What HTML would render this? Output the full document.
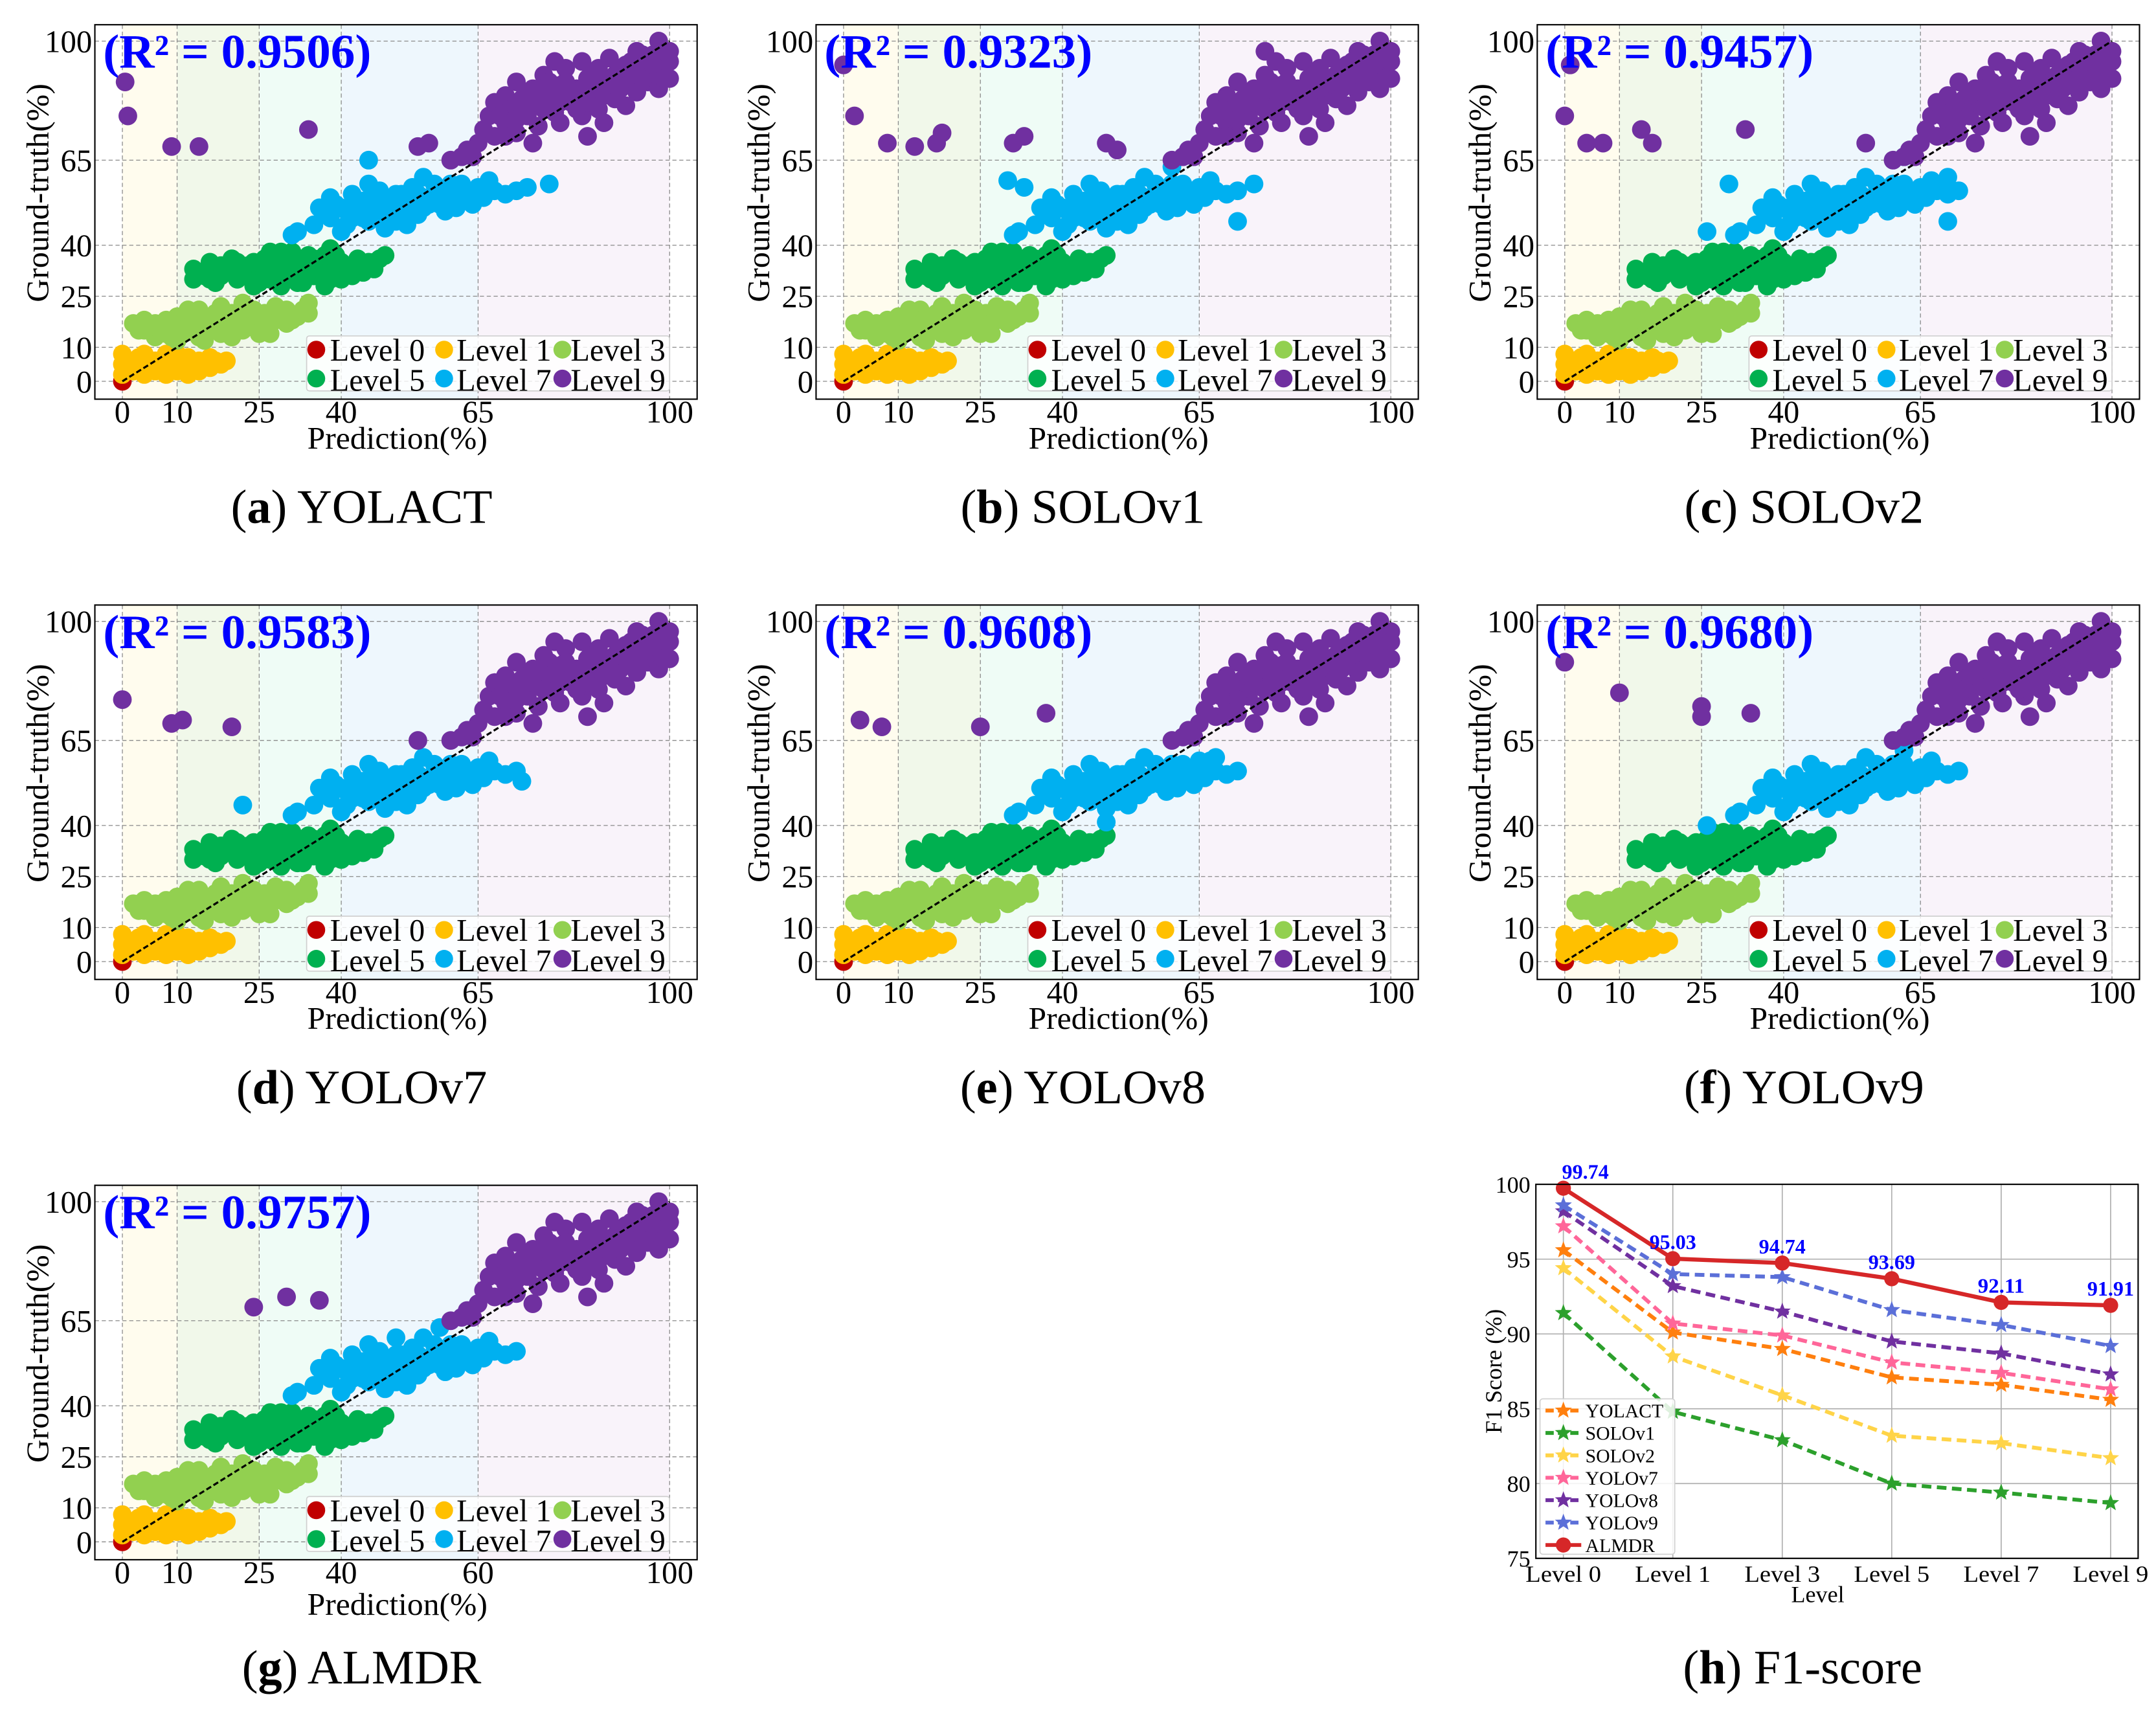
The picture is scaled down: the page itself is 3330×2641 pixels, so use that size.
<!DOCTYPE html>
<html><head><meta charset="utf-8"><style>
html,body{margin:0;padding:0;background:#fff;}
svg{display:block;font-family:"Liberation Serif",serif;}
</style></head><body>
<svg id="fig" width="3330" height="2641" viewBox="0 0 1568 1243" xmlns="http://www.w3.org/2000/svg"></svg>
<script>
// ---------- scatter data (data units: [x,y,x,y,...]) ----------
const levelNames = ['Level 0','Level 1','Level 3','Level 5','Level 7','Level 9'];
const levelColors = ['#c00000','#ffc000','#92d050','#00b050','#00b0f0','#7030a0'];
const panelLetters = ['a','b','c','d','e','f','g'];
const panelNames = ['YOLACT','SOLOv1','SOLOv2','YOLOv7','YOLOv8','YOLOv9','ALMDR'];
const panelR2 = ['0.9506','0.9323','0.9457','0.9583','0.9608','0.9680','0.9757'];
const xTickValues = [0,10,25,40,65,100];
const yTickValues = [0,10,25,40,65,100];
const xTickLabelsStd = ['0','10','25','40','65','100'];
const xTickLabelsG = ['0','10','25','40','60','100'];
const bandEdges = [0,10,25,40,65,100];
const bandColors = ['#fffcee','#f1f8ea','#effcf6','#eef7fd','#f9f3fa'];

const coreL0 = [0,0];
const coreL1 = [0,2,0,5,0,8,2,3,2,6,4,2,4,5,4,8,6,3,6,6,8,2,8,5,8,8,10,3,10,6,12,4,12,7,14,3,14,6,16,4,16,7,18,5,1,4,3,7,7,4,11,5,15,5,9,7,13,5,17,6,5,4,19,6,10,8,12,2];
const coreL3 = [2,17,4,15,4,18,6,13,6,17,8,14,8,18,10,12,10,16,10,19,12,15,12,19,14,13,14,17,14,21,16,15,16,19,18,14,18,18,18,22,20,16,20,20,22,15,22,19,22,23,24,17,24,21,26,16,26,20,28,18,28,22,30,17,30,21,32,19,34,20,34,23,20,13,25,14,
  5,16,7,15,9,17,11,14,13,18,15,16,17,20,19,17,21,18,23,16,25,19,27,17,29,20,31,18,33,21,9,13,15,12,27,14,3,15,12,21];
const coreL5 = [13,33,13,30,15,31,16,35,17,29,19,32,20,36,21,30,23,34,24,28,25,32,26,36,27,30,28,34,29,38,30,31,31,35,32,29,33,33,34,37,35,31,36,35,37,28,38,33,39,37,40,30,41,34,42,31,43,36,44,32,45,35,46,33,47,36,48,37,22,33,38,39,18,34,
  14,32,16,30,18,31,20,33,22,31,24,35,26,33,28,31,30,35,32,33,34,31,36,33,38,30,40,35,42,33,44,34,46,35,25,29,29,28,33,29,35,36,27,38,31,38,37,37,21,35];
const coreL7 = [35,46,36,51,38,48,38,54,40,51,41,46,42,55,43,49,44,53,45,47,46,51,47,56,48,49,49,53,50,47,51,55,52,51,53,57,54,49,55,54,56,52,57,58,58,55,59,50,60,56,61,53,62,58,63,55,64,52,65,57,66,54,67,59,68,56,70,55,72,56,45,58,55,60,40,44,32,44,31,43,
  37,50,39,52,41,50,43,52,45,50,47,53,49,50,51,52,53,54,55,51,57,53,59,55,61,51,63,53,65,55,50,55,54,55,58,52,44,48,48,45,52,46,46,55,42,48,60,58,62,54,66,57];
const coreL9 = [65,70,66,74,67,78,68,82,68,72,70,76,70,84,71,80,72,73,72,88,73,83,74,78,75,86,76,81,76,75,77,90,78,84,79,79,80,87,80,76,81,92,82,82,83,86,84,78,84,94,85,89,86,84,87,80,87,92,88,87,89,95,90,83,90,90,91,86,92,93,93,89,94,97,94,85,95,92,96,88,97,96,97,91,98,100,98,86,99,93,100,97,100,89,79,94,75,70,85,72,63,68,62,66,60,65,88,76,92,81,
  69,78,71,76,73,80,75,82,77,80,78,88,80,82,82,86,84,86,86,90,88,84,90,87,92,89,94,91,96,94,98,92,99,97,100,94,74,84,76,86,81,84,83,80,85,82,89,88,91,92,93,94,95,96,97,93,99,89,72,77,79,85,81,88,87,86,64,66,70,72];

const extraL7 = [
  [45,65,78,58,74,57],
  [72,47,30,59,60,63,33,57,75,58],
  [70,47,62,66,70,60,30,58,26,44],
  [22,46,73,53],
  [68,60,65,59,48,41],
  [26,40,62,62],
  [58,63,50,60]
];
const extraL9 = [
  [0.5,88,1,78,9,69,14,69,34,74,54,69,56,70],
  [0,93,2,78,8,70,13,69,18,73,17,70,31,70,33,72,48,70,50,68,77,97],
  [1,93,0,78,4,70,7,70,14,74,16,70,33,74,55,70],
  [0,77,9,70,11,71,20,69,54,65],
  [3,71,7,69,25,69,37,73],
  [0,88,10,79,25,72,25,75,34,73],
  [24,69,30,72,36,71]
];

// ---------- F1 chart data ----------
const f1Categories = ['Level 0','Level 1','Level 3','Level 5','Level 7','Level 9'];
const f1SeriesNames = ['YOLACT','SOLOv1','SOLOv2','YOLOv7','YOLOv8','YOLOv9','ALMDR'];
const f1YOLACT = [95.6,90.1,89.0,87.1,86.6,85.6];
const f1SOLOv1 = [91.4,84.8,82.9,80.0,79.4,78.7];
const f1SOLOv2 = [94.4,88.5,85.9,83.2,82.7,81.7];
const f1YOLOv7 = [97.2,90.7,89.9,88.1,87.4,86.3];
const f1YOLOv8 = [98.2,93.2,91.5,89.5,88.7,87.3];
const f1YOLOv9 = [98.6,94.0,93.8,91.6,90.6,89.2];
const f1ALMDR = [99.74,95.03,94.74,93.69,92.11,91.91];
const f1Labels = ['99.74','95.03','94.74','93.69','92.11','91.91'];
const f1YTicks = [75,80,85,90,95,100];
const f1Colors = ['#ff7f0e','#2ca02c','#ffd448','#ff6699','#7030a0','#5b6fd8','#d62728'];

const NS='http://www.w3.org/2000/svg';
const svg=document.getElementById('fig');
function mk(tag,attrs,parent){const e=document.createElementNS(NS,tag);for(const k in attrs)e.setAttribute(k,attrs[k]);(parent||svg).appendChild(e);return e;}

function drawPanel(i){
  const col=i%3,row=Math.floor(i/3);
  const ox=col*524.5, oy=row*422;
  const g=mk('g',{});
  
  
  const L=69+ox,R=507+ox,T=17.7+oy,B=290+oy;
  const sx=v=>89+ox+v*3.98;
  const sy=v=>277+oy-v*2.474;
  for(let b=0;b<bandColors.length;b++){
    const r=mk('rect',{x:sx(bandEdges[b]),y:T,width:sx(bandEdges[b+1])-sx(bandEdges[b]),height:B-T,fill:bandColors[b]},g);
    
    
  }
  xTickValues.forEach(v=>{const l=mk('line',{x1:sx(v),x2:sx(v),y1:T,y2:B,stroke:'#8a8a8a','stroke-width':0.6,'stroke-dasharray':'3,2'},g);
    
    });
  yTickValues.forEach(v=>{const l=mk('line',{x1:L,x2:R,y1:sy(v),y2:sy(v),stroke:'#8a8a8a','stroke-width':0.6,'stroke-dasharray':'3,2'},g);
    
    });
  const sets=[coreL0,coreL1,coreL3,coreL5,coreL7.concat(extraL7[i]),coreL9.concat(extraL9[i])];
  sets.forEach((arr,k)=>{
    const sg=mk('g',{fill:levelColors[k]},g);
    
    
    for(let j=0;j<arr.length;j+=2){
      const c=mk('circle',{cx:sx(arr[j]),cy:sy(arr[j+1]),r:6.8},sg);
      
      
    }
  });
  const d=mk('line',{x1:sx(0),y1:sy(0),x2:sx(100),y2:sy(100),stroke:'#000','stroke-width':1.5,'stroke-dasharray':'4,2'},g);
  
  
  const f=mk('rect',{x:L,y:T,width:R-L,height:B-T,fill:'none',stroke:'#000','stroke-width':1},g);
  
  
  const xl=(i===6)?xTickLabelsG:xTickLabelsStd;
  xTickValues.forEach((v,k)=>{const t=mk('text',{x:sx(v),y:307+oy,'font-size':23,'text-anchor':'middle'},g);t.textContent=xl[k];
    
    });
  yTickValues.forEach(v=>{const t=mk('text',{x:67+ox,y:sy(v)+8,'font-size':23,'text-anchor':'end'},g);t.textContent=String(v);
    
    });
  const xt=mk('text',{x:289+ox,y:326+oy+(i===6?4:0),'font-size':23,'text-anchor':'middle',textLength:131,lengthAdjust:'spacingAndGlyphs'},g);xt.textContent='Prediction(%)';
  
  
  const yt=mk('text',{x:0,y:0,'font-size':23,'text-anchor':'middle',textLength:159,lengthAdjust:'spacingAndGlyphs',transform:`translate(${35+ox},${140+oy}) rotate(-90)`},g);yt.textContent='Ground-truth(%)';
  
  
  const r2=mk('text',{x:75+ox,y:49+oy,'font-size':35,'font-weight':'bold',fill:'#0000ff',textLength:195,lengthAdjust:'spacingAndGlyphs'},g);r2.textContent='(R² = '+panelR2[i]+')';
  
  
  const lg=mk('g',{},g);
  
  
  mk('rect',{x:223+ox,y:244+oy,width:264,height:40,fill:'#fff','fill-opacity':0.8,stroke:'#d0d0d0','stroke-width':0.8,rx:2},lg);
  const mx=[230,323,409],tx=[240,332,415],my=[254,275],ty=[262,284];
  levelNames.forEach((n,k)=>{
    const c=k%3,r=Math.floor(k/3);
    const m=mk('circle',{cx:mx[c]+ox,cy:my[r]+oy,r:6.5,fill:levelColors[k]},lg);
    
    
    const t=mk('text',{x:tx[c]+ox,y:ty[r]+oy,'font-size':23,textLength:69,lengthAdjust:'spacingAndGlyphs'},lg);t.textContent=n;
    
    
  });
  const cap=mk('text',{x:263+ox,y:380+oy,'font-size':35,'text-anchor':'middle'},g);
  const b1=mk('tspan',{},cap);b1.textContent='(';
  const b2=mk('tspan',{'font-weight':'bold'},cap);b2.textContent=panelLetters[i];
  const b3=mk('tspan',{},cap);b3.textContent=') '+panelNames[i];
  
  
}
for(let i=0;i<7;i++)drawPanel(i);

// ---------- F1 line chart ----------
(function(){
  const g=mk('g',{});
  
  
  const L=1117,R=1555,T=861,B=1133;
  const sx=i=>1137+i*79.6;
  const sy=v=>T+(100-v)*(B-T)/25;
  f1YTicks.forEach(v=>{const l=mk('line',{x1:L,x2:R,y1:sy(v),y2:sy(v),stroke:'#b0b0b0','stroke-width':0.8},g);
    
    
    const t=mk('text',{x:1113,y:sy(v)+6,'font-size':17,'text-anchor':'end'},g);t.textContent=String(v);
    
    });
  f1Categories.forEach((c,i)=>{const l=mk('line',{x1:sx(i),x2:sx(i),y1:T,y2:B,stroke:'#b0b0b0','stroke-width':0.8},g);
    
    
    const t=mk('text',{x:sx(i),y:1150,'font-size':17,'text-anchor':'middle',textLength:55,lengthAdjust:'spacingAndGlyphs'},g);t.textContent=c;
    
    });
  function star(cx,cy,r){let p=[];for(let k=0;k<10;k++){const a=-Math.PI/2+k*Math.PI/5;const rr=k%2?r*0.42:r;p.push((cx+rr*Math.cos(a)).toFixed(2)+','+(cy+rr*Math.sin(a)).toFixed(2));}return p.join(' ');}
  const series=[f1YOLACT,f1SOLOv1,f1SOLOv2,f1YOLOv7,f1YOLOv8,f1YOLOv9,f1ALMDR];
  series.forEach((vals,s)=>{
    const sg=mk('g',{},g);
    
    
    const pts=vals.map((v,i)=>sx(i)+','+sy(v)).join(' ');
    const isA=s===6;
    const pl=mk('polyline',{points:pts,fill:'none',stroke:f1Colors[s],'stroke-width':isA?3:2.8,'stroke-dasharray':isA?'none':'7,4'},sg);
    
    
    vals.forEach((v,i)=>{
      let m;
      if(isA)m=mk('circle',{cx:sx(i),cy:sy(v),r:5.5,fill:f1Colors[s]},sg);
      else m=mk('polygon',{points:star(sx(i),sy(v),6.5),fill:f1Colors[s]},sg);
      
      
    });
  });
  f1ALMDR.forEach((v,i)=>{const t=mk('text',{x:sx(i)+(i===0?16:0),y:sy(v)-7,'font-size':15,'font-weight':'bold',fill:'#0000ff','text-anchor':'middle',textLength:34,lengthAdjust:'spacingAndGlyphs'},g);t.textContent=f1Labels[i];
    
    });
  const f=mk('rect',{x:L,y:T,width:R-L,height:B-T,fill:'none',stroke:'#000','stroke-width':1},g);
  
  
  const lg=mk('g',{},g);
  
  
  mk('rect',{x:1120,y:1017,width:98,height:113,fill:'#fff','fill-opacity':0.85,stroke:'#d0d0d0','stroke-width':0.8,rx:2},lg);
  f1SeriesNames.forEach((n,s)=>{
    const y=1025.5+s*16.3;
    const isA=s===6;
    const l=mk('line',{x1:1124,x2:1150,y1:y,y2:y,stroke:f1Colors[s],'stroke-width':2.8,'stroke-dasharray':isA?'none':'6,3'},lg);
    
    
    let m=isA?mk('circle',{cx:1137,cy:y,r:5.5,fill:f1Colors[s]},lg):mk('polygon',{points:star(1137,y,6.5),fill:f1Colors[s]},lg);
    
    
    const t=mk('text',{x:1153,y:y+5,'font-size':14},lg);t.textContent=n;
    
    
  });
  const xt=mk('text',{x:1322,y:1165,'font-size':17,'text-anchor':'middle'},g);xt.textContent='Level';
  
  
  const yt=mk('text',{x:0,y:0,'font-size':17,'text-anchor':'middle',transform:'translate(1092,997) rotate(-90)'},g);yt.textContent='F1 Score (%)';
  
  
  const cap=mk('text',{x:1311,y:1224,'font-size':35,'text-anchor':'middle'},g);
  const b1=mk('tspan',{},cap);b1.textContent='(';
  const b2=mk('tspan',{'font-weight':'bold'},cap);b2.textContent='h';
  const b3=mk('tspan',{},cap);b3.textContent=') F1-score';
  
  
})();
</script>
</body></html>
